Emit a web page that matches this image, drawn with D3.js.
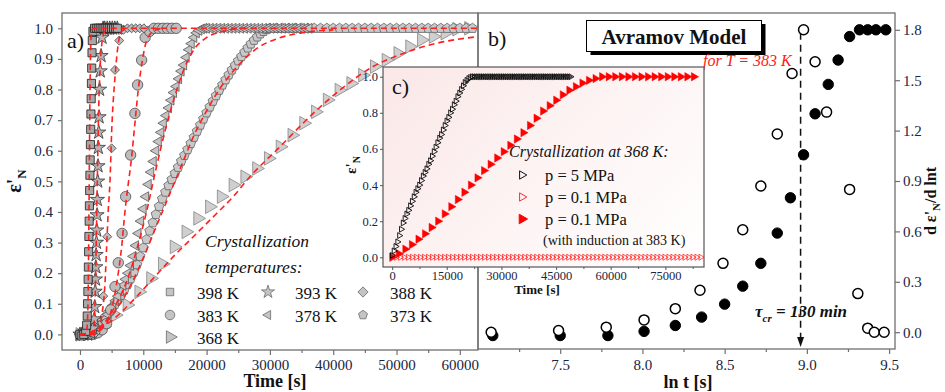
<!DOCTYPE html>
<html>
<head>
<meta charset="utf-8">
<script src="https://cdn.jsdelivr.net/npm/d3@7"></script>
<style>
  body { margin: 0; background: #fff; }
  svg { display: block; }
  text { font-family: "Liberation Serif", "Times New Roman", serif; }
</style>
</head>
<body>
<svg id="chart" width="945" height="392"></svg>
<script>
// ---------------- Panel a: isothermal crystallization, eps'_N vs time ----------------
const legendLabels = ["398 K", "393 K", "388 K", "383 K", "378 K", "373 K", "368 K"];

const t398 = [0,300,600,900,1050,1150,1200,1250,1290,1330,1370,1410,1450,1490,1530,1570,1610,1650,1690,1730,1770,1810,1850,1900,1950,2050,2300,2600,2900,3200,3500,3800,4100,4400,4700,5000,5300,5600,5900];
const v398 = [0,-0.005,0,0.01,0.03,0.06,0.1,0.14,0.18,0.22,0.27,0.32,0.37,0.42,0.47,0.52,0.57,0.62,0.67,0.72,0.77,0.82,0.87,0.92,0.96,0.99,1,1,1,1,1,1,1,1,1,1,1,1,1];

const t393 = [0,600,1200,1700,2050,2250,2330,2400,2450,2500,2550,2600,2650,2700,2750,2800,2850,2900,2960,3020,3100,3200,3330,3480,3650,3900,4300,4700,5100,5500,5900];
const v393 = [0,0,0,0.005,0.02,0.05,0.09,0.14,0.18,0.22,0.26,0.30,0.34,0.39,0.44,0.50,0.55,0.61,0.66,0.71,0.80,0.86,0.91,0.97,1,1,1,1,1,1,1];

const t388 = [0,620,1240,1860,2480,3080,3680,4300,5000,5530,6200,6850,7500,8150,8800,9450,10100];
const v388 = [0,0,0,0,0.005,0.03,0.125,0.319,0.608,0.864,0.96,0.995,1,1,1,1,1];

const t383 = [0,700,1400,2100,2800,3500,4200,4850,5530,6050,6650,7210,8000,8680,9100,9740,10300,11000,11700,12400,13100,13800,14500,15200];
const v383 = [0,0,0,0,0.005,0.015,0.035,0.08,0.156,0.234,0.33,0.45,0.586,0.722,0.815,0.896,0.97,0.99,1,1,1,1,1,1];

const t378rise = [0,400,800,1200,1600,2000,2400,2800,3200,3600,4000,4400,4800,5200,5600,6000,6400,6800,7200,7600,8000,8400,8800,9200,9600,10000,10400,10800,11200,11600,12000,12400,12800,13200,13600,14000,14400,14800,15200,15600,16000,16400,16800,17200,17600,18000,18400,18800,19200,19600,20000];
const v378rise = [0,0,0,0.002,0.005,0.01,0.015,0.022,0.03,0.04,0.052,0.065,0.079,0.094,0.11,0.125,0.142,0.16,0.18,0.2,0.225,0.255,0.29,0.33,0.37,0.41,0.45,0.49,0.53,0.565,0.6,0.63,0.66,0.69,0.715,0.74,0.765,0.79,0.81,0.835,0.86,0.88,0.905,0.93,0.95,0.97,0.985,0.993,0.998,1,1];
const t378tail = [20600,21200,21800,22400,23000,23600,24200,24800,25400,26000,26600,27200,27800,28400,29000,29600,30200,30800,31400,32000,32600,33200,33800,34400,35000,35600,36200];
const v378tail = [1,1,1,1,1,1,1,1,1,1,1,1,1,1,1,1,1,1,1,1,1,1,1,1,1,1,1];

const t373rise = [0,500,1000,1500,2000,2500,3000,3500,4000,4500,5000,5500,6000,6500,7000,7500,8000,8500,9000,9500,10000,10500,11000,11500,12000,12500,13000,13500,14000,14500,15000,15500,16000,16500,17000,17500,18000,18500,19000,19500,20000,20500,21000,21500,22000,22500,23000,23500,24000,24500,25000,25500,26000,26500,27000,27500,28000,28500,29000,29500,30000];
const v373rise = [0,0,0.003,0.008,0.015,0.024,0.034,0.045,0.057,0.07,0.084,0.098,0.113,0.128,0.145,0.163,0.182,0.203,0.228,0.255,0.283,0.31,0.338,0.365,0.392,0.418,0.443,0.465,0.486,0.506,0.526,0.546,0.566,0.585,0.604,0.624,0.644,0.664,0.684,0.704,0.724,0.743,0.762,0.78,0.798,0.815,0.832,0.848,0.864,0.879,0.894,0.908,0.922,0.936,0.949,0.961,0.972,0.982,0.99,0.996,1];
const t373tail = [31000,32000,33000,34000,35000,36000,37000,38000,39000,40000,41000,42000,43000,44000,45000,46000,47000,48000,49000,50000,51000,52000,53000,54000,55000,56000,57000,58000,59000,60000,61000,62000];
const v373tail = [1,1,1,1,1,1,1,1,1,1,1,1,1,1,1,1,1,1,1,1,1,1,1,1,1,1,1,1,1,1,1,1];

const t368 = [0,1860,3720,5580,7440,9300,11160,13020,14880,16740,18600,20460,22320,24180,26040,27900,29760,31620,33480,35340,37200,39060,40920,42780,44640,46500,48360,50220,52080,53940,55800,57660,59520,61380];
const v368 = [0,0.005,0.025,0.063,0.096,0.139,0.183,0.23,0.286,0.335,0.379,0.417,0.45,0.488,0.515,0.542,0.575,0.613,0.651,0.69,0.727,0.766,0.798,0.82,0.847,0.875,0.896,0.918,0.94,0.962,0.973,0.984,0.997,1];

// Avramov model fits (red dashed)
const fitT398 = [0,900,1150,1300,1400,1480,1560,1650,1750,1900,2200,63000];
const fitV398 = [0,0,0.03,0.15,0.35,0.55,0.75,0.9,0.97,0.995,1,1];
const fitT393 = [0,1800,2200,2400,2550,2700,2850,3000,3200,3450,3800,4300];
const fitV393 = [0,0,0.03,0.12,0.28,0.46,0.63,0.77,0.88,0.95,0.985,1];
const fitT388 = [0,2500,3000,3420,3950,4210,4470,4740,5000,5530,6050,6580,7500];
const fitV388 = [0,0,0.01,0.058,0.167,0.286,0.406,0.5,0.66,0.84,0.95,0.99,1];
const fitT383 = [0,1500,2100,3300,4470,5200,5800,6580,7100,7370,8160,8680,9210,9740,10530,11580,13000];
const fitV383 = [0,0,0.003,0.015,0.047,0.1,0.167,0.286,0.40,0.45,0.58,0.69,0.8,0.88,0.96,0.99,1];
const fitT378 = [0,1500,3000,4500,6000,7500,9000,10500,12000,13500,15000,16500,18000,20000,22500,26000];
const fitV378 = [0,0.003,0.02,0.055,0.11,0.18,0.28,0.4,0.54,0.67,0.78,0.87,0.93,0.97,0.99,1];
const fitT373 = [0,2000,4000,6000,8000,10000,12000,14000,16000,18000,20000,22000,24000,26000,28000,31000,35000,40000];
const fitV373 = [0,0.01,0.04,0.09,0.16,0.25,0.35,0.45,0.55,0.65,0.73,0.8,0.855,0.9,0.935,0.965,0.985,0.995];
const fitT368 = [0,1050,4740,8420,11580,14740,17900,21580,24200,26840,31580,36840,41050,46310,51050,56320,62900];
const fitV368 = [0,0.003,0.041,0.112,0.183,0.254,0.319,0.395,0.45,0.515,0.613,0.722,0.798,0.875,0.918,0.951,0.973];

const ticksA_x = [0,10000,20000,30000,40000,50000,60000];
const ticksA_y = [0,0.1,0.2,0.3,0.4,0.5,0.6,0.7,0.8,0.9,1.0];

// ---------------- Panel b: d eps'_N / d ln t vs ln t ----------------
const lnTOpen = [7.08,7.49,7.78,8.01,8.20,8.35,8.49,8.61,8.72,8.82,8.91,8.98,9.05,9.12,9.26,9.31,9.37,9.41,9.47];
const dOpen   = [0.0,0.01,0.03,0.073,0.14,0.25,0.41,0.61,0.87,1.18,1.54,1.80,1.61,1.31,0.85,0.23,0.024,0.0,0.0];
const lnTFill = [7.09,7.50,7.79,8.01,8.20,8.36,8.50,8.61,8.72,8.82,8.90,8.98,9.05,9.13,9.19,9.26,9.32,9.37,9.42,9.48];
const dFill   = [-0.02,-0.02,-0.02,0.005,0.04,0.09,0.167,0.274,0.41,0.59,0.80,1.056,1.30,1.475,1.62,1.76,1.80,1.80,1.80,1.80];
const tauCrMin = 130;
const ticksB_x = [7.5,8.0,8.5,9.0,9.5];
const ticksB_y = [0,0.3,0.6,0.9,1.2,1.5,1.8];

// ---------------- Inset c: crystallization at 368 K ----------------
const t5rise = [0,500,1000,1500,2000,2500,3000,3500,4000,4500,5000,5500,6000,6500,7000,7500,8000,8500,9000,9500,10000,10500,11000,11500,12000,12500,13000,13500,14000,14500,15000,15500,16000,16500,17000,17500,18000,18500,19000,19500,20000,20500,21000,21500,22000];
const v5rise = [0.01,0.035,0.06,0.085,0.12,0.155,0.19,0.215,0.24,0.26,0.285,0.31,0.335,0.36,0.38,0.4,0.425,0.45,0.47,0.49,0.515,0.535,0.56,0.585,0.61,0.635,0.66,0.68,0.705,0.73,0.755,0.775,0.8,0.82,0.845,0.865,0.89,0.91,0.93,0.95,0.968,0.98,0.99,0.996,1];
const t5tail = [22500,23000,23500,24000,24500,25000,25500,26000,26500,27000,27500,28000,28500,29000,29500,30000,30500,31000,31500,32000,32500,33000,33500,34000,34500,35000,35500,36000,36500,37000,37500,38000,38500,39000,39500,40000,40500,41000,41500,42000,42500,43000,43500,44000,44500,45000,45500,46000,46500,47000,47500,48000,48500,49000];
const v5tail = [1,1,1,1,1,1,1,1,1,1,1,1,1,1,1,1,1,1,1,1,1,1,1,1,1,1,1,1,1,1,1,1,1,1,1,1,1,1,1,1,1,1,1,1,1,1,1,1,1,1,1,1,1,1];

const tLow = [1100,2200,3300,4400,5500,6600,7700,8800,9900,11000,12100,13200,14300,15400,16500,17600,18700,19800,20900,22000,23100,24200,25300,26400,27500,28600,29700,30800,31900,33000,34100,35200,36300,37400,38500,39600,40700,41800,42900,44000,45100,46200,47300,48400,49500,50600,51700,52800,53900,55000,56100,57200,58300,59400,60500,61600,62700,63800,64900,66000,67100,68200,69300,70400,71500,72600,73700,74800,75900,77000,78100,79200,80300,81400,82500,83600,84700];
const vLow = [0,0,0,0,0,0,0,0,0,0,0,0,0,0,0,0,0,0,0,0,0,0,0,0,0,0,0,0,0,0,0,0,0,0,0,0,0,0,0,0,0,0,0,0,0,0,0,0,0,0,0,0,0,0,0,0,0,0,0,0,0,0,0,0,0,0,0,0,0,0,0,0,0,0,0,0,0];

const tInd = [0,1800,3600,5400,7200,9000,10800,12600,14400,16200,18000,19800,21600,23400,25200,27000,28800,30600,32400,34200,36000,37800,39600,41400,43200,45000,46800,48600,50400,52200,54000,55800,57600,59400,61200,63000,64800,66600,68400,70200,72000,73800,75600,77400,79200,81000,82800];
const vInd = [0,0.02,0.045,0.07,0.1,0.13,0.165,0.2,0.24,0.28,0.32,0.36,0.4,0.44,0.48,0.515,0.55,0.585,0.62,0.655,0.69,0.73,0.77,0.81,0.84,0.87,0.9,0.925,0.945,0.965,0.98,0.99,1,1,1,1,1,1,1,1,1,1,1,1,1,1,1];

const ticksC_x = [0,15000,30000,45000,60000,75000];
const ticksC_y = [0,0.2,0.4,0.6,0.8,1.0];

// ---------------- drawing ----------------
const svg = d3.select("#chart");
const axisGray = "#6f6f6f";
const tickInk = "#1b2440";
const fitRed = "#ff1f1f";

function styleAxis(g, size) {
  g.select(".domain").remove();
  g.selectAll(".tick line").attr("stroke", axisGray).attr("stroke-width", 1.2);
  g.selectAll(".tick text").attr("fill", tickInk).style("font-size", size + "px")
    .style("font-family", '"Liberation Serif", serif');
}

// pentagon symbol
const symbolPentagon = {
  draw(ctx, size) {
    const r = Math.sqrt(size / 2.3776);
    for (let i = 0; i < 5; i++) {
      const a = -Math.PI / 2 + i * 2 * Math.PI / 5;
      const x = r * Math.cos(a), y = r * Math.sin(a);
      if (i === 0) ctx.moveTo(x, y); else ctx.lineTo(x, y);
    }
    ctx.closePath();
  }
};

const markerSpec = {
  "398 K": { type: d3.symbolSquare, size: 66, rot: 0 },
  "393 K": { type: d3.symbolStar, size: 62, rot: 0 },
  "388 K": { type: d3.symbolSquare, size: 40, rot: 45 },
  "383 K": { type: d3.symbolCircle, size: 85, rot: 0 },
  "378 K": { type: d3.symbolTriangle, size: 42, rot: -90 },
  "373 K": { type: symbolPentagon, size: 62, rot: 0 },
  "368 K": { type: d3.symbolTriangle, size: 80, rot: 90 }
};

// ===== Panel a =====
const xA = d3.scaleLinear().domain([-2840, 62870]).range([62, 478]);
const yA = d3.scaleLinear().domain([-0.051, 1.05]).range([350, 13]);

svg.append("clipPath").attr("id", "clipA").append("rect")
  .attr("x", 62).attr("y", 13).attr("width", 416).attr("height", 337);
const gA = svg.append("g").attr("clip-path", "url(#clipA)");

const seriesA = [
  { key: "368 K", t: t368, v: v368, fill: "#cfcfcf", stroke: "#858585" },
  { key: "373 K", t: t373rise.concat(t373tail), v: v373rise.concat(v373tail), fill: "#c9c9c9", stroke: "#626262" },
  { key: "378 K", t: t378rise.concat(t378tail), v: v378rise.concat(v378tail), fill: "#c4c4c4", stroke: "#555" },
  { key: "383 K", t: t383, v: v383, fill: "#bdbdbd", stroke: "#4a4a4a" },
  { key: "388 K", t: t388, v: v388, fill: "#bdbdbd", stroke: "#4a4a4a" },
  { key: "393 K", t: t393, v: v393, fill: "#b5b5b5", stroke: "#333" },
  { key: "398 K", t: t398, v: v398, fill: "#a8a8a8", stroke: "#1a1a1a" }
];

seriesA.forEach(s => {
  const m = markerSpec[s.key];
  const sym = d3.symbol().type(m.type).size(m.size);
  gA.append("g").selectAll("path").data(d3.zip(s.t, s.v)).join("path")
    .attr("d", sym)
    .attr("transform", d => `translate(${xA(d[0])},${yA(d[1])}) rotate(${m.rot})`)
    .attr("fill", s.fill).attr("stroke", s.stroke).attr("stroke-width", 0.8);
});

const fitLineA = d3.line().x(d => xA(d[0])).y(d => yA(d[1])).curve(d3.curveMonotoneX);
[[fitT398, fitV398], [fitT393, fitV393], [fitT388, fitV388], [fitT383, fitV383],
 [fitT378, fitV378], [fitT373, fitV373], [fitT368, fitV368]].forEach(([t, v]) => {
  gA.append("path").attr("d", fitLineA(d3.zip(t, v)))
    .attr("fill", "none").attr("stroke", fitRed).attr("stroke-width", 1.6)
    .attr("stroke-dasharray", "6,4");
});

// axes a
const axA_x = svg.append("g").attr("transform", "translate(0,350)")
  .call(d3.axisBottom(xA).tickValues(ticksA_x).tickFormat(d3.format("d")).tickSize(5).tickPadding(4));
styleAxis(axA_x, 15);
const axA_xm = svg.append("g").attr("transform", "translate(0,350)")
  .call(d3.axisBottom(xA).tickValues(ticksA_x.map(d => d + 5000).filter(d => d < 62800)).tickFormat("").tickSize(3));
styleAxis(axA_xm, 15);
const axA_y = svg.append("g").attr("transform", "translate(62,0)")
  .call(d3.axisLeft(yA).tickValues(ticksA_y).tickFormat(d3.format(".1f")).tickSize(4).tickPadding(5));
styleAxis(axA_y, 15);

svg.append("rect").attr("x", 62).attr("y", 13).attr("width", 416).attr("height", 337)
  .attr("fill", "none").attr("stroke", axisGray).attr("stroke-width", 1.3);

svg.append("text").attr("x", 67).attr("y", 48).style("font-size", "22px").attr("fill", "#111").text("a)");

svg.append("text").attr("x", 275).attr("y", 387).attr("text-anchor", "middle")
  .style("font-size", "18px").style("font-weight", "bold").attr("fill", "#111").text("Time [s]");

const yLabA = svg.append("text").attr("transform", "translate(21,181) rotate(-90)")
  .attr("text-anchor", "middle").style("font-weight", "bold").style("font-size", "20px").attr("fill", "#111");
yLabA.append("tspan").text("ε'");
yLabA.append("tspan").attr("dy", 5).style("font-size", "13px").text("N");

// legend a
svg.append("text").attr("x", 205).attr("y", 247).style("font-size", "17.5px").style("font-style", "italic")
  .attr("fill", "#111").text("Crystallization");
svg.append("text").attr("x", 205).attr("y", 273).style("font-size", "17.5px").style("font-style", "italic")
  .attr("fill", "#111").text("temperatures:");
const legCols = [170, 268, 363];
const legRows = [292, 315, 337];
legendLabels.forEach((lab, i) => {
  const col = i < 6 ? i % 3 : 0;
  const row = Math.floor(i / 3);
  const m = markerSpec[lab];
  const cx = legCols[col], cy = legRows[row];
  svg.append("path").attr("d", d3.symbol().type(m.type).size(lab === "388 K" ? 52 : m.size * 0.85))
    .attr("transform", `translate(${cx},${cy}) rotate(${m.rot})`)
    .attr("fill", "#c4c4c4").attr("stroke", "#6a6a6a").attr("stroke-width", 0.8);
  svg.append("text").attr("x", cx + 27).attr("y", cy + 6.5).style("font-size", "17px")
    .attr("fill", "#111").text(lab);
});

// ===== Panel b =====
const xB = d3.scaleLinear().domain([7.0, 9.536]).range([478, 895]);
const yB = d3.scaleLinear().domain([-0.1, 1.9]).range([349, 13]);

const axB_x = svg.append("g").attr("transform", "translate(0,349)")
  .call(d3.axisBottom(xB).tickValues(ticksB_x).tickFormat(d3.format(".1f")).tickSize(5).tickPadding(5));
styleAxis(axB_x, 15);
const axB_xm = svg.append("g").attr("transform", "translate(0,349)")
  .call(d3.axisBottom(xB).tickValues([7.25, 7.75, 8.25, 8.75, 9.25]).tickFormat("").tickSize(3));
styleAxis(axB_xm, 15);
const axB_y = svg.append("g").attr("transform", "translate(895,0)")
  .call(d3.axisRight(yB).tickValues(ticksB_y).tickFormat(d3.format(".1f")).tickSize(5).tickPadding(3));
styleAxis(axB_y, 15);

svg.append("rect").attr("x", 478).attr("y", 13).attr("width", 417).attr("height", 336)
  .attr("fill", "none").attr("stroke", axisGray).attr("stroke-width", 1.3);

// tau_cr marker line
const xTau = xB(Math.log(tauCrMin * 60));
svg.append("line").attr("x1", xTau).attr("x2", xTau).attr("y1", yB(1.8) + 3).attr("y2", 340)
  .attr("stroke", "#111").attr("stroke-width", 1.5).attr("stroke-dasharray", "7,5");
svg.append("path").attr("d", `M${xTau - 3.5},${337} L${xTau + 3.5},${337} L${xTau},${347} Z`).attr("fill", "#111");

svg.append("g").selectAll("circle").data(d3.zip(lnTFill, dFill)).join("circle")
  .attr("cx", d => xB(d[0])).attr("cy", d => yB(d[1])).attr("r", 5.2)
  .attr("fill", "#000").attr("stroke", "#000").attr("stroke-width", 1);
svg.append("g").selectAll("circle").data(d3.zip(lnTOpen, dOpen)).join("circle")
  .attr("cx", d => xB(d[0])).attr("cy", d => yB(d[1])).attr("r", 5)
  .attr("fill", "#fff").attr("stroke", "#000").attr("stroke-width", 1.5);

svg.append("text").attr("x", 488).attr("y", 46).style("font-size", "22px").attr("fill", "#111").text("b)");

// model title box
svg.append("rect").attr("x", 590.5).attr("y", 24).attr("width", 175).attr("height", 31).attr("fill", "#000");
svg.append("rect").attr("x", 586.5).attr("y", 20.5).attr("width", 175).attr("height", 31)
  .attr("fill", "#fff").attr("stroke", "#000").attr("stroke-width", 1);
svg.append("text").attr("x", 674).attr("y", 43.5).attr("text-anchor", "middle")
  .style("font-size", "21px").style("font-weight", "bold").attr("fill", "#111").text("Avramov Model");
svg.append("text").attr("x", 703).attr("y", 66).style("font-size", "16px").style("font-style", "italic")
  .attr("fill", "#ff1a1a").text("for T = 383 K");

const tauLab = svg.append("text").attr("x", 755).attr("y", 317).style("font-size", "17px")
  .style("font-style", "italic").style("font-weight", "bold").attr("fill", "#111");
tauLab.append("tspan").text("τ");
tauLab.append("tspan").attr("dy", 5).style("font-size", "11px").text("cr");
tauLab.append("tspan").attr("dy", -5).text(` = ${tauCrMin} min`);

svg.append("text").attr("x", 688).attr("y", 388).attr("text-anchor", "middle")
  .style("font-size", "18px").style("font-weight", "bold").attr("fill", "#111").text("ln t [s]");

const yLabB = svg.append("text").attr("transform", "translate(936,201) rotate(-90)")
  .attr("text-anchor", "middle").style("font-weight", "bold").style("font-size", "16px").attr("fill", "#111");
yLabB.append("tspan").text("d ε'");
yLabB.append("tspan").attr("dy", 4).style("font-size", "11px").text("N");
yLabB.append("tspan").attr("dy", -4).text("/d lnt");

// ===== Inset c =====
const xC = d3.scaleLinear().domain([-2500, 85600]).range([383, 704]);
const yC = d3.scaleLinear().domain([-0.054, 1.054]).range([267, 67]);

const grad = svg.append("defs").append("linearGradient").attr("id", "insetBg")
  .attr("x1", "0").attr("y1", "0.2").attr("x2", "1").attr("y2", "0.8");
grad.append("stop").attr("offset", "0").attr("stop-color", "#fbe9e9");
grad.append("stop").attr("offset", "1").attr("stop-color", "#fffdfd");

svg.append("rect").attr("x", 383).attr("y", 67).attr("width", 321).attr("height", 200)
  .attr("fill", "url(#insetBg)");

svg.append("clipPath").attr("id", "clipC").append("rect")
  .attr("x", 383).attr("y", 67).attr("width", 321).attr("height", 200);
const gC = svg.append("g").attr("clip-path", "url(#clipC)");

const triRight = (size) => d3.symbol().type(d3.symbolTriangle).size(size);

gC.append("g").selectAll("path").data(d3.zip(tLow, vLow)).join("path")
  .attr("d", triRight(16)).attr("transform", d => `translate(${xC(d[0])},${yC(d[1])}) rotate(90)`)
  .attr("fill", "none").attr("stroke", "#ff2a2a").attr("stroke-width", 0.8);
gC.append("g").selectAll("path").data(d3.zip(tInd, vInd)).join("path")
  .attr("d", triRight(30)).attr("transform", d => `translate(${xC(d[0])},${yC(d[1])}) rotate(90)`)
  .attr("fill", "#ff0000").attr("stroke", "#ff0000").attr("stroke-width", 0.5);
gC.append("g").selectAll("path").data(d3.zip(t5rise.concat(t5tail), v5rise.concat(v5tail))).join("path")
  .attr("d", triRight(15)).attr("transform", d => `translate(${xC(d[0])},${yC(d[1])}) rotate(90)`)
  .attr("fill", "none").attr("stroke", "#0a0a0a").attr("stroke-width", 0.9);

const axC_x = svg.append("g").attr("transform", "translate(0,267)")
  .call(d3.axisBottom(xC).tickValues(ticksC_x).tickFormat(d3.format("d")).tickSize(3).tickPadding(1));
styleAxis(axC_x, 12.5);
const axC_xm = svg.append("g").attr("transform", "translate(0,267)")
  .call(d3.axisBottom(xC).tickValues(ticksC_x.map(d => d + 7500)).tickFormat("").tickSize(2));
styleAxis(axC_xm, 12.5);
const axC_y = svg.append("g").attr("transform", "translate(383,0)")
  .call(d3.axisLeft(yC).tickValues(ticksC_y).tickFormat(d3.format(".1f")).tickSize(3).tickPadding(2));
styleAxis(axC_y, 12.5);

svg.append("rect").attr("x", 383).attr("y", 67).attr("width", 321).attr("height", 200)
  .attr("fill", "none").attr("stroke", "#555").attr("stroke-width", 1.2);

svg.append("text").attr("x", 392).attr("y", 94).style("font-size", "22px").attr("fill", "#111").text("c)");

svg.append("text").attr("x", 537).attr("y", 294).attr("text-anchor", "middle")
  .style("font-size", "13px").style("font-weight", "bold").attr("fill", "#111").text("Time [s]");

const yLabC = svg.append("text").attr("transform", "translate(356,165) rotate(-90)")
  .attr("text-anchor", "middle").style("font-weight", "bold").style("font-size", "15px").attr("fill", "#111");
yLabC.append("tspan").text("ε'");
yLabC.append("tspan").attr("dy", 4).style("font-size", "10px").text("N");

svg.append("text").attr("x", 509).attr("y", 157).style("font-size", "16px").style("font-style", "italic")
  .attr("fill", "#111").text("Crystallization at 368 K:");
const insetLegend = [
  { y: 175, label: "p = 5 MPa", fill: "none", stroke: "#111", size: 30 },
  { y: 197, label: "p = 0.1 MPa", fill: "none", stroke: "#ff2a2a", size: 30 },
  { y: 219, label: "p = 0.1 MPa", fill: "#ff0000", stroke: "#ff0000", size: 40 }
];
insetLegend.forEach(r => {
  svg.append("path").attr("d", triRight(r.size)).attr("transform", `translate(522,${r.y}) rotate(90)`)
    .attr("fill", r.fill).attr("stroke", r.stroke).attr("stroke-width", 1);
  svg.append("text").attr("x", 545).attr("y", r.y + 6).style("font-size", "16.5px").attr("fill", "#111").text(r.label);
});
svg.append("text").attr("x", 543).attr("y", 245).style("font-size", "14px").attr("fill", "#111")
  .text("(with induction at 383 K)");
</script>
</body>
</html>
